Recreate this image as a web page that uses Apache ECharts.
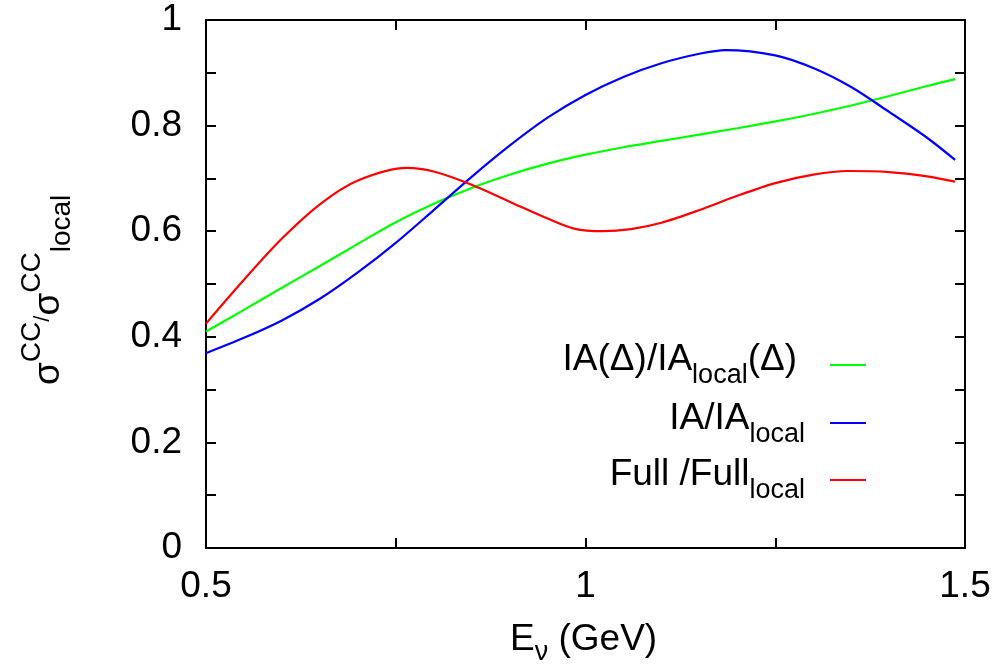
<!DOCTYPE html>
<html>
<head>
<meta charset="utf-8">
<script src="https://cdn.jsdelivr.net/npm/echarts@6/dist/echarts.min.js"></script>
<style>
  html, body { margin: 0; padding: 0; background: #fff; }
  #chart { width: 1001px; height: 666px; }
</style>
</head>
<body>
<div id="chart"></div>
<script>
// neutrino energy (GeV) and cross section ratios
// (each curve has its own x points so that maxima / minima sit on a point)
var iaDeltaX = [0.5, 0.55, 0.6, 0.65, 0.7, 0.75, 0.8, 0.85, 0.9, 0.95, 1.0,
                1.05, 1.1, 1.15, 1.2, 1.25, 1.3, 1.35, 1.4, 1.45, 1.487];
var iaDeltaY = [0.410, 0.451, 0.493, 0.534, 0.576, 0.617, 0.652, 0.682, 0.707, 0.728, 0.745,
                0.759, 0.771, 0.783, 0.795, 0.808, 0.822, 0.838, 0.856, 0.875, 0.888];

var iaX = [0.5, 0.55, 0.6, 0.65, 0.7, 0.75, 0.8, 0.85, 0.9, 0.95, 1.0,
           1.05, 1.1, 1.15, 1.185, 1.25, 1.3, 1.35, 1.4, 1.45, 1.487];
var iaY = [0.369, 0.398, 0.431, 0.472, 0.522, 0.578, 0.640, 0.703, 0.762, 0.815, 0.858,
           0.892, 0.918, 0.936, 0.943, 0.933, 0.909, 0.873, 0.826, 0.777, 0.735];

var fullX = [0.5, 0.55, 0.6, 0.65, 0.7, 0.765, 0.8, 0.85, 0.9, 0.95, 0.985, 1.022,
             1.06, 1.1, 1.15, 1.2, 1.25, 1.3, 1.345, 1.4, 1.45, 1.487];
var fullY = [0.425, 0.508, 0.586, 0.651, 0.696, 0.720, 0.713, 0.688, 0.656, 0.624, 0.605, 0.600,
             0.604, 0.616, 0.640, 0.667, 0.691, 0.707, 0.714, 0.712, 0.704, 0.694];

var xTicks = [0.5, 1, 1.5];
var yTicks = [0, 0.2, 0.4, 0.6, 0.8, 1];

function pairs(xs, ys) {
  return xs.map(function (x, i) { return [x, ys[i]]; });
}

var font = "'Liberation Sans', Arial, Helvetica, sans-serif";
var myChart = echarts.init(document.getElementById("chart"));

var axisCommon = {
  axisLine: { show: true, onZero: false, lineStyle: { color: "#000", width: 2 } },
  axisTick: { show: true, inside: true, length: 10, lineStyle: { color: "#000", width: 2 } },
  minorTick: { show: true, splitNumber: 2, length: 10, lineStyle: { color: "#000", width: 2 } },
  splitLine: { show: false }
};

function line(name, xs, ys, color) {
  return {
    name: name,
    type: "line",
    data: pairs(xs, ys),
    smooth: 0.3,
    symbol: "none",
    lineStyle: { color: color, width: 2.2 },
    z: 3
  };
}

// legend rows: text right aligned, sample line on the right
var legendRows = [
  { text: "IA(Δ)/IA{s|local}(Δ)", color: "#00ff00", y: 365, right: 797, base: 373 },
  { text: "IA/IA{s|local}", color: "#0000ff", y: 423, right: 805, base: 432 },
  { text: "Full /Full{s|local}", color: "#ff0000", y: 480, right: 805, base: 488 }
];

var graphics = [];
legendRows.forEach(function (r) {
  graphics.push({
    type: "text",
    x: r.right,
    y: r.base - 13,
    style: {
      text: r.text,
      fontSize: 37,
      fontFamily: font,
      fill: "#000",
      align: "right",
      verticalAlign: "middle",
      rich: { s: { fontSize: 27, fontFamily: font, padding: [31, 0, 0, 0] } }
    }
  });
  graphics.push({
    type: "line",
    shape: { x1: 830, y1: r.y, x2: 866, y2: r.y },
    style: { stroke: r.color, lineWidth: 2 }
  });
});

// x axis title
graphics.push({
  type: "text",
  x: 510,
  y: 640,
  style: {
    text: "E{s|ν} (GeV)",
    fontSize: 37,
    fontFamily: font,
    fill: "#000",
    verticalAlign: "middle",
    rich: { s: { fontSize: 27, fontFamily: font, padding: [25, 0, 0, 0] } }
  }
});

// y axis title, rotated to read upwards
graphics.push({
  type: "text",
  x: 49,
  y: 385,
  rotation: Math.PI / 2,
  style: {
    text: "σ{p|CC}{q|/}σ{p|CC}{s|local}",
    fontSize: 37,
    fontFamily: font,
    fill: "#000",
    verticalAlign: "middle",
    rich: {
      p: { fontSize: 28, fontFamily: font, padding: [0, 0, 34, 0] },
      q: { fontSize: 22, fontFamily: font, padding: [0, 0, 12, 0] },
      s: { fontSize: 28, fontFamily: font, padding: [26, 0, 0, 0] }
    }
  }
});

var option = {
  animation: false,
  backgroundColor: "#fff",
  grid: { left: 206, right: 36, top: 20, bottom: 118 },
  xAxis: [
    Object.assign({}, axisCommon, {
      type: "value",
      position: "bottom",
      min: xTicks[0],
      max: xTicks[xTicks.length - 1],
      interval: 0.5,
      axisLabel: { color: "#000", fontSize: 37, fontFamily: font, margin: 20 }
    }),
    Object.assign({}, axisCommon, {
      type: "value",
      position: "top",
      min: xTicks[0],
      max: xTicks[xTicks.length - 1],
      interval: 0.5,
      axisLabel: { show: false }
    })
  ],
  yAxis: [
    Object.assign({}, axisCommon, {
      type: "value",
      position: "left",
      min: yTicks[0],
      max: yTicks[yTicks.length - 1],
      interval: 0.2,
      axisLabel: { color: "#000", fontSize: 37, fontFamily: font, margin: 24 }
    }),
    Object.assign({}, axisCommon, {
      type: "value",
      position: "right",
      min: yTicks[0],
      max: yTicks[yTicks.length - 1],
      interval: 0.2,
      axisLabel: { show: false }
    })
  ],
  series: [
    line("IA(Δ)/IA_local(Δ)", iaDeltaX, iaDeltaY, "#00ff00"),
    line("IA/IA_local", iaX, iaY, "#0000ff"),
    line("Full /Full_local", fullX, fullY, "#ff0000")
  ],
  graphic: graphics
};

myChart.setOption(option);
</script>
</body>
</html>
